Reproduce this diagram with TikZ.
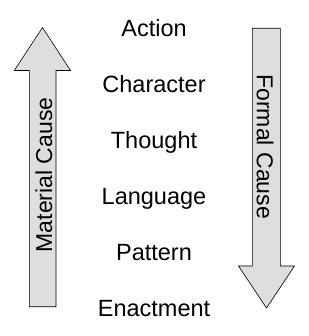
\documentclass[tikz,border=0pt]{standalone}
\usepackage{fontspec}
\setmainfont{Liberation Sans}
\begin{document}
\begin{tikzpicture}[x=1pt,y=-1pt,
  arrowshape/.style={draw=black,fill=black!13,line width=0.6pt,line join=miter},
  word/.style={anchor=base,inner sep=0pt,font=\fontsize{23.5}{28}\selectfont},
  cause/.style={inner sep=0pt,font=\fontsize{23}{28}\selectfont}]
\useasboundingbox (0,0) rectangle (308,336);
% left up arrow
\draw[arrowshape] (29.3,306.7) -- (29.3,70.5) -- (14.3,70.5) -- (42.5,27.5) -- (70.5,70.5) -- (56,70.5) -- (56,306.7) -- cycle;
% right down arrow
\draw[arrowshape] (252.3,28.3) -- (280.3,28.3) -- (280.3,266) -- (294.5,266) -- (266.5,308) -- (238.5,266) -- (252.3,266) -- cycle;
\node[cause,rotate=90] (mat) at (44,175) {Material Cause};
\node[cause,rotate=-90] (form) at (265,146.7) {Formal Cause};
\node[word] (a) at (154,36.7) {Action};
\node[word] (c) at (154,92.7) {Character};
\node[word] (t) at (154,148.3) {Thought};
\node[word] (l) at (154,204) {Language};
\node[word] (p) at (154,260) {Pattern};
\node[word] (e) at (154,316.7) {Enactment};
\end{tikzpicture}
\end{document}
